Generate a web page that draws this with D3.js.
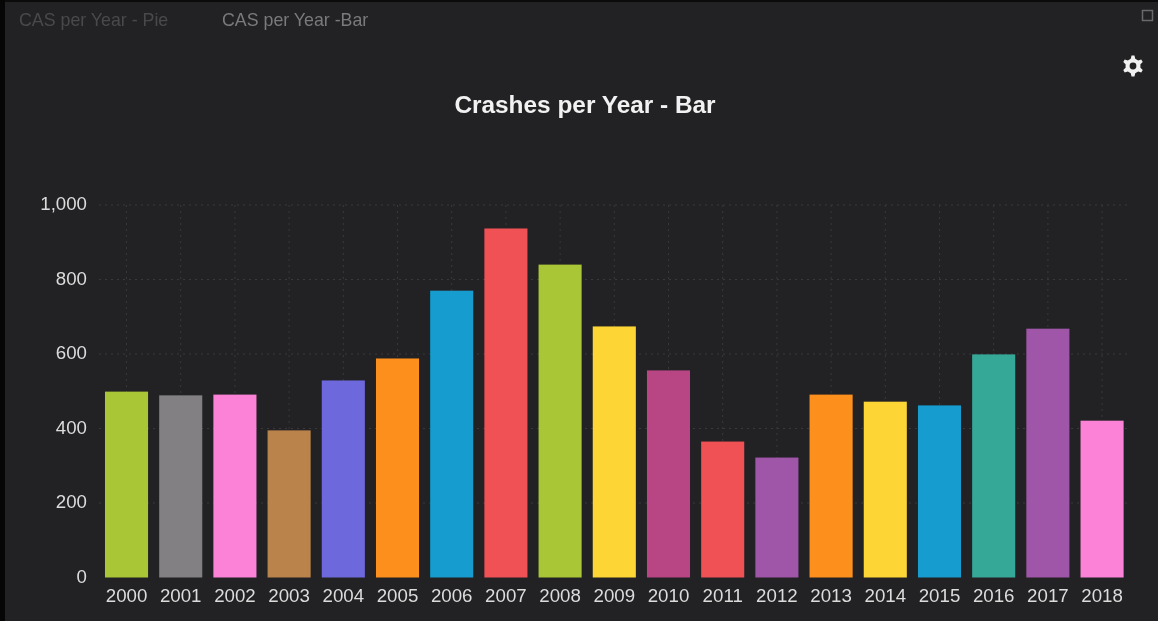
<!DOCTYPE html>
<html><head><meta charset="utf-8">
<script src="https://cdn.jsdelivr.net/npm/d3@7/dist/d3.min.js"></script>
<style>html,body{margin:0;padding:0;background:#222124;overflow:hidden}svg{display:block}</style>
</head><body><svg id="c" width="1158" height="621"></svg>
<script>
const years=["2000","2001","2002","2003","2004","2005","2006","2007","2008","2009","2010","2011","2012","2013","2014","2015","2016","2017","2018"];
const crashes=[499,489,491,395,529,588,770,937,840,674,556,365,322,491,472,462,599,668,421];
const barColors=["#a8c634","#828083","#fb82d6","#b9834c","#6d69dc","#fd8f1d","#149ccf","#ef5155","#a8c634","#fdd535","#b84484","#ef5155","#9f56a8","#fd8f1d","#fdd535","#149ccf","#36a898","#9f56a8","#fb82d6"];
const yTicks=[0,200,400,600,800,1000];
const tabs=["CAS per Year - Pie","CAS per Year -Bar"];
const font="'Liberation Sans',Arial,sans-serif";
const svg=d3.select("#c");
const defs=svg.append("defs");
defs.append("filter").attr("id","soft").append("feGaussianBlur").attr("stdDeviation",0.7);
svg.append("rect").attr("width",1158).attr("height",621).attr("fill","#222124");
svg.append("rect").attr("width",1158).attr("height",2).attr("fill","#0b0b0c");
svg.append("rect").attr("width",5).attr("height",621).attr("fill","#060606");
const root=svg.append("g").attr("filter","url(#soft)");
const x=d3.scaleBand().domain(years).range([99.4,1129.2]).paddingInner(0.205).paddingOuter(0.103);
const y=d3.scaleLinear().domain([0,1000]).range([577.5,205]);
const grid=root.append("g");
grid.selectAll("line.h").data(yTicks.slice(1)).join("line").attr("class","h")
 .attr("x1",99).attr("x2",1131).attr("y1",d=>y(d)).attr("y2",d=>y(d))
 .attr("stroke","#3a393c").attr("stroke-width",1).attr("stroke-dasharray","2 4");
grid.selectAll("line.v").data(years).join("line").attr("class","v")
 .attr("x1",d=>x(d)+x.bandwidth()/2).attr("x2",d=>x(d)+x.bandwidth()/2).attr("y1",205).attr("y2",577)
 .attr("stroke","#3a393c").attr("stroke-width",1).attr("stroke-dasharray","2 4");
root.append("g").selectAll("rect").data(years).join("rect")
 .attr("x",d=>x(d)).attr("width",x.bandwidth())
 .attr("y",(d,i)=>y(crashes[i])).attr("height",(d,i)=>y(0)-y(crashes[i]))
 .attr("fill",(d,i)=>barColors[i]);
const yAxis=root.append("g").attr("transform","translate(87,0)")
 .call(d3.axisLeft(y).tickValues(yTicks).tickFormat(d3.format(",")).tickSize(0).tickPadding(0));
yAxis.select(".domain").remove();
yAxis.selectAll("text").attr("font-family",font).attr("font-size",18.7).attr("fill","#dcdcdc").attr("dy","0.25em");
const xAxis=root.append("g").attr("transform","translate(0,589)")
 .call(d3.axisBottom(x).tickSize(0).tickPadding(0));
xAxis.select(".domain").remove();
xAxis.selectAll("text").attr("font-family",font).attr("font-size",18.7).attr("fill","#dcdcdc").attr("dy","0.71em");
root.append("text").attr("x",585).attr("y",112.5).attr("text-anchor","middle")
 .attr("font-family",font).attr("font-size",24.4).attr("font-weight","bold").attr("fill","#f2f2f2").text("Crashes per Year - Bar");
root.selectAll("text.tab").data(tabs).join("text").attr("class","tab")
 .attr("x",(d,i)=>[19,222][i]).attr("y",26)
 .attr("font-family",font).attr("font-size",17.8)
 .attr("fill",(d,i)=>["#4a494c","#7a797c"][i]).text(d=>d);
root.append("rect").attr("x",1142.5).attr("y",10.5).attr("width",10).attr("height",10)
 .attr("fill","none").attr("stroke","#6a696c").attr("stroke-width",1.5);
const teeth=6,gearPts=[];
for(let i=0;i<teeth;i++){const a=i*2*Math.PI/teeth-Math.PI/2;
 [[-0.3,10.5],[-0.14,10.5],[0.14,10.5],[0.3,10.5]].forEach((p,j)=>{
  const r=(j==0||j==3)?7.6:10.5;gearPts.push([Math.cos(a+p[0])*r,Math.sin(a+p[0])*r]);});}
const gear=root.append("g").attr("transform","translate(1133,66)");
gear.append("path").attr("d",d3.line().curve(d3.curveLinearClosed)(gearPts)).attr("fill","#f0f0f0");
gear.append("circle").attr("r",3.4).attr("fill","#222124");
</script></body></html>
